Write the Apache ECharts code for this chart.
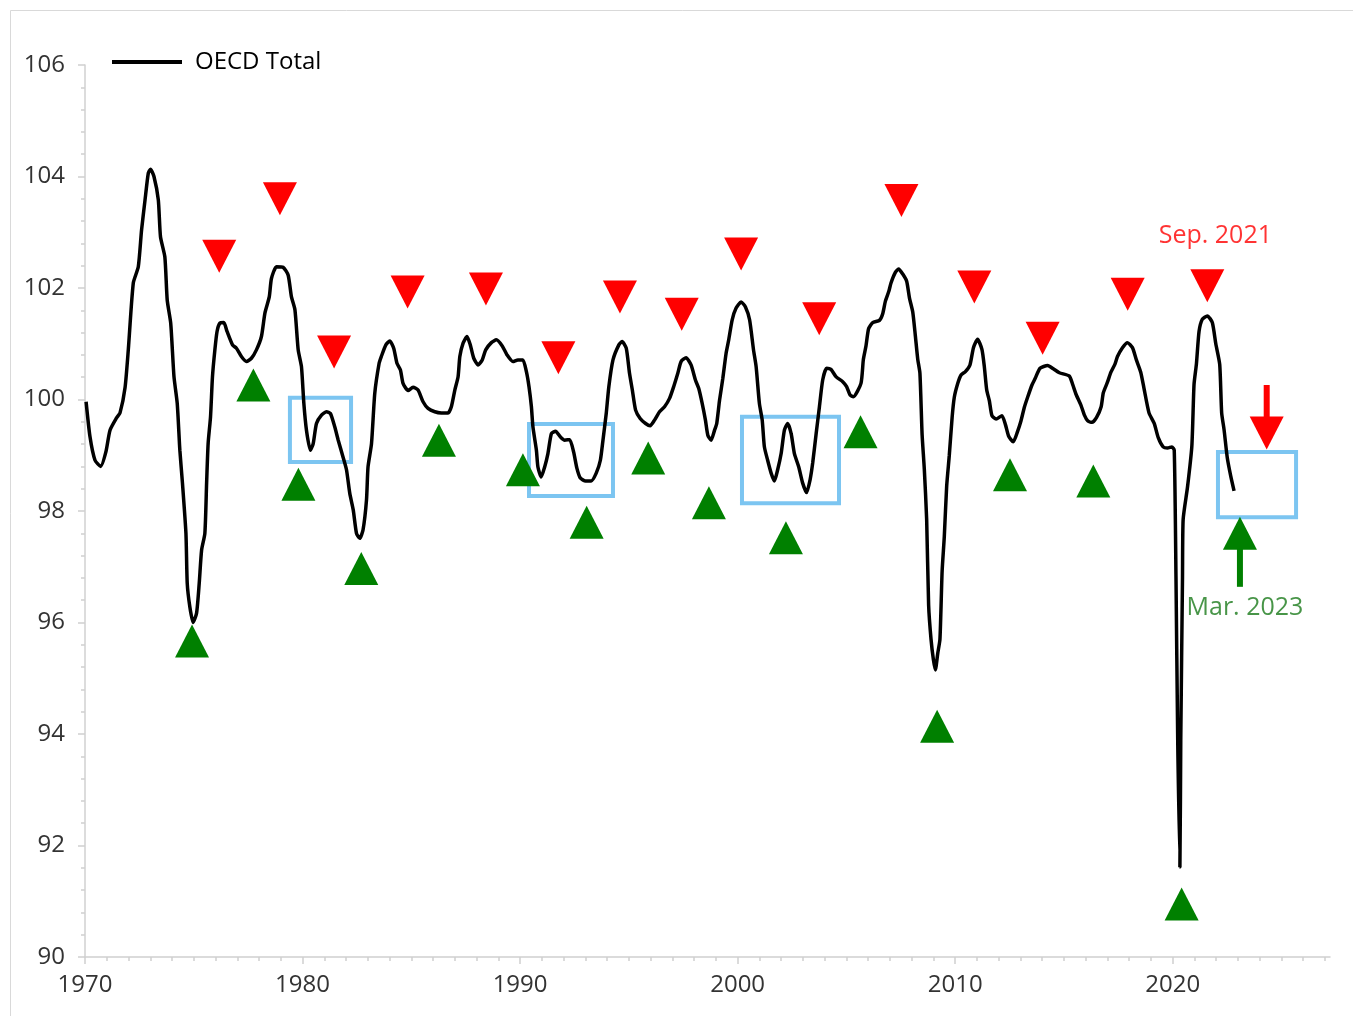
<!DOCTYPE html>
<html>
<head>
<meta charset="utf-8">
<title>OECD Total</title>
<script src="https://cdn.jsdelivr.net/npm/echarts@6/dist/echarts.min.js"></script>
<style>
html,body{margin:0;padding:0;background:#fff;}
#main{width:1353px;height:1016px;}
</style>
</head>
<body>
<div id="main"></div>
<script>
// OECD Total, [year, value]
var oecdTotal = [
  [1970.05,99.96],[1970.23,99.33],[1970.46,98.91],[1970.72,98.80],[1970.96,99.06],[1971.15,99.45],[1971.45,99.67],[1971.61,99.76],[1971.84,100.21],[1971.99,100.89],
  [1972.22,102.09],[1972.45,102.38],[1972.6,103.04],[1972.76,103.58],[1972.91,104.06],[1973.01,104.13],[1973.17,104.0],[1973.37,103.58],[1973.47,102.92],[1973.67,102.56],
  [1973.78,101.78],[1973.94,101.37],[1974.09,100.41],[1974.24,99.93],[1974.36,99.09],[1974.48,98.50],[1974.64,97.60],[1974.7,96.70],[1974.82,96.28],[1974.97,96.0],
  [1975.13,96.17],[1975.25,96.70],[1975.36,97.30],[1975.51,97.60],[1975.59,98.50],[1975.66,99.21],[1975.77,99.69],[1975.86,100.41],[1975.97,100.89],[1976.07,101.22],
  [1976.2,101.37],[1976.38,101.38],[1976.53,101.22],[1976.78,100.98],[1976.96,100.92],[1977.19,100.77],[1977.42,100.68],[1977.65,100.74],[1977.88,100.89],[1978.11,101.13],
  [1978.27,101.55],[1978.47,101.84],[1978.57,102.17],[1978.8,102.38],[1979.11,102.37],[1979.34,102.23],[1979.49,101.84],[1979.65,101.61],[1979.8,100.89],[1979.95,100.59],
  [1980.06,99.93],[1980.18,99.45],[1980.36,99.09],[1980.49,99.21],[1980.64,99.57],[1980.87,99.72],[1981.1,99.78],[1981.28,99.75],[1981.48,99.51],[1981.64,99.27],
  [1981.86,98.97],[1982.02,98.74],[1982.17,98.32],[1982.33,98.02],[1982.48,97.60],[1982.63,97.51],[1982.78,97.66],[1982.94,98.20],[1983.01,98.79],[1983.17,99.21],
  [1983.32,100.11],[1983.52,100.65],[1983.62,100.77],[1983.83,100.98],[1984.01,101.05],[1984.19,100.92],[1984.34,100.65],[1984.5,100.53],[1984.62,100.29],[1984.85,100.16],
  [1985.08,100.22],[1985.31,100.17],[1985.54,99.96],[1985.77,99.84],[1986.08,99.78],[1986.38,99.76],[1986.69,99.76],[1986.84,99.87],[1987.0,100.17],[1987.15,100.41],
  [1987.23,100.77],[1987.38,101.01],[1987.56,101.13],[1987.71,100.98],[1987.87,100.74],[1988.07,100.62],[1988.26,100.71],[1988.42,100.89],[1988.68,101.02],[1988.91,101.07],
  [1989.18,100.96],[1989.4,100.80],[1989.67,100.68],[1989.9,100.71],[1990.13,100.71],[1990.29,100.50],[1990.41,100.23],[1990.52,99.87],[1990.59,99.51],[1990.75,99.09],
  [1990.82,98.79],[1990.97,98.61],[1991.13,98.79],[1991.28,99.03],[1991.44,99.39],[1991.63,99.43],[1991.85,99.33],[1992.05,99.27],[1992.28,99.28],[1992.46,99.06],
  [1992.61,98.77],[1992.77,98.59],[1993.01,98.54],[1993.27,98.54],[1993.5,98.68],[1993.69,98.91],[1993.81,99.27],[1993.96,99.75],[1994.08,100.23],[1994.27,100.71],
  [1994.54,100.98],[1994.69,101.04],[1994.88,100.92],[1995.03,100.47],[1995.16,100.17],[1995.31,99.81],[1995.52,99.66],[1995.77,99.57],[1995.98,99.53],[1996.18,99.63],
  [1996.41,99.78],[1996.64,99.87],[1996.87,100.02],[1997.06,100.23],[1997.25,100.47],[1997.4,100.68],[1997.63,100.75],[1997.86,100.62],[1998.06,100.35],[1998.21,100.20],
  [1998.37,99.93],[1998.52,99.63],[1998.63,99.36],[1998.78,99.27],[1998.94,99.45],[1999.04,99.57],[1999.17,99.99],[1999.32,100.38],[1999.47,100.83],[1999.59,101.07],
  [1999.75,101.43],[1999.93,101.64],[2000.16,101.75],[2000.36,101.66],[2000.55,101.43],[2000.73,100.89],[2000.85,100.59],[2001.0,99.93],[2001.13,99.63],[2001.23,99.15],
  [2001.38,98.91],[2001.54,98.68],[2001.69,98.54],[2001.84,98.74],[2002.0,99.03],[2002.15,99.45],[2002.3,99.57],[2002.46,99.39],[2002.61,99.03],[2002.81,98.79],
  [2002.99,98.50],[2003.17,98.33],[2003.33,98.56],[2003.45,98.86],[2003.61,99.39],[2003.76,99.87],[2003.91,100.35],[2004.09,100.56],[2004.29,100.54],[2004.52,100.41],
  [2004.83,100.32],[2005.01,100.23],[2005.17,100.08],[2005.32,100.05],[2005.67,100.29],[2005.78,100.72],[2005.9,100.96],[2006.02,101.27],[2006.21,101.38],[2006.52,101.42],
  [2006.67,101.54],[2006.79,101.76],[2006.95,101.94],[2007.05,102.09],[2007.25,102.28],[2007.4,102.34],[2007.59,102.25],[2007.77,102.12],[2007.9,101.82],[2008.05,101.57],
  [2008.17,101.14],[2008.28,100.72],[2008.38,100.47],[2008.48,99.37],[2008.58,98.76],[2008.69,97.84],[2008.78,96.31],[2008.89,95.70],[2009.0,95.33],[2009.09,95.15],
  [2009.2,95.45],[2009.3,95.70],[2009.4,96.92],[2009.5,97.54],[2009.61,98.45],[2009.73,99.00],[2009.86,99.68],[2009.96,100.04],[2010.12,100.29],[2010.27,100.44],
  [2010.47,100.50],[2010.68,100.62],[2010.84,100.93],[2011.03,101.08],[2011.23,100.90],[2011.34,100.59],[2011.45,100.17],[2011.57,99.98],[2011.69,99.71],[2011.88,99.65],
  [2012.15,99.71],[2012.31,99.55],[2012.46,99.34],[2012.67,99.24],[2012.87,99.43],[2013.02,99.61],[2013.18,99.86],[2013.33,100.04],[2013.53,100.26],[2013.68,100.38],
  [2013.9,100.56],[2014.25,100.61],[2014.51,100.55],[2014.79,100.48],[2015.25,100.42],[2015.4,100.27],[2015.56,100.09],[2015.78,99.90],[2015.94,99.72],[2016.09,99.62],
  [2016.29,99.59],[2016.5,99.68],[2016.71,99.87],[2016.81,100.12],[2017.0,100.31],[2017.16,100.49],[2017.35,100.64],[2017.46,100.77],[2017.69,100.93],[2017.92,101.02],
  [2018.15,100.93],[2018.33,100.71],[2018.53,100.49],[2018.68,100.20],[2018.91,99.76],[2019.15,99.57],[2019.34,99.31],[2019.56,99.15],[2019.76,99.13],[2019.96,99.15],
  [2020.07,99.09],[2020.15,96.82],[2020.23,93.88],[2020.33,91.61],[2020.37,93.88],[2020.45,96.82],[2020.48,97.85],[2020.68,98.43],[2020.88,99.17],[2020.98,100.27],
  [2021.09,100.64],[2021.21,101.22],[2021.36,101.44],[2021.59,101.50],[2021.82,101.38],[2021.98,101.00],[2022.16,100.63],[2022.25,99.76],[2022.36,99.46],[2022.51,98.95],
  [2022.67,98.62],[2022.82,98.36]
];

// turning point markers (centre of the triangle)
var peaks = [
  [1976.17,102.57],[1978.96,103.60],[1981.45,100.85],[1984.83,101.93],[1988.43,101.98],
  [1991.76,100.75],[1994.59,101.84],[1997.43,101.53],[2000.16,102.61],[2003.75,101.45],
  [2007.53,103.57],[2010.88,102.02],[2014.02,101.10],[2017.93,101.89],[2021.59,102.04]
];
var troughs = [
  [1974.92,95.67],[1977.74,100.26],[1979.81,98.48],[1982.70,96.97],[1986.27,99.27],
  [1990.13,98.74],[1993.06,97.80],[1995.89,98.95],[1998.68,98.15],[2002.22,97.52],
  [2005.65,99.42],[2009.17,94.14],[2012.52,98.65],[2016.35,98.54],[2020.41,90.95]
];

// blue boxes: [year from, value top, year to, value bottom]
var boxes = [
  [1979.42,100.03,1982.23,98.88],
  [1990.41,99.56,1994.27,98.27],
  [2000.20,99.69,2004.66,98.14],
  [2022.08,99.06,2025.67,97.89]
];

// arrows
var redShaft = [[2024.32,100.26],[2024.32,99.63]];
var redHead = [[2024.32,99.40]];
var greenShaft = [[2023.09,96.64],[2023.09,97.34]];
var greenHead = [[2023.09,97.60]];

var notes = [[2021.96,102.93,'Sep. 2021'],[2023.32,96.27,'Mar. 2023']];
var noteColors = ['#ff0000','#1a7a1a'];

var yearTicks = [1970,1980,1990,2000,2010,2020];

var fontName = '"Open Sans", "Noto Sans", sans-serif';
var axisGrey = '#d0d0d0';

var myChart = echarts.init(document.getElementById('main'));
var option = {
    backgroundColor: '#fff',
    animation: false,
    textStyle: { fontFamily: fontName },
    graphic: [{
        type: 'rect',
        shape: { x: 10.5, y: 10.5, width: 1400, height: 1100 },
        style: { fill: 'none', stroke: '#d9d9d9', lineWidth: 1 },
        silent: true
    }],
    grid: { left: 85, right: 23, top: 65, bottom: 59, containLabel: false },
    legend: {
        data: [{ name: 'OECD Total', icon: 'rect' }],
        left: 112,
        top: 50,
        padding: 0,
        itemWidth: 70,
        itemHeight: 4,
        textStyle: { fontSize: 24, color: '#000', fontFamily: fontName, padding: [0, 0, 0, 8] }
    },
    xAxis: {
        type: 'value',
        min: 1970,
        max: 2027.23,
        interval: 10,
        axisLine: { show: true, onZero: false, lineStyle: { color: axisGrey, width: 1.5 } },
        axisTick: { show: true, length: 7, customValues: yearTicks, lineStyle: { color: axisGrey, width: 1.5 } },
        minorTick: { show: true, splitNumber: 10, length: 4, lineStyle: { color: axisGrey, width: 1.5 } },
        axisLabel: {
            customValues: yearTicks,
            formatter: function (v) { return String(v); },
            fontSize: 24, color: '#333', margin: 16, fontFamily: fontName
        },
        splitLine: { show: false }
    },
    yAxis: {
        type: 'value',
        min: 90,
        max: 106,
        interval: 2,
        axisLine: { show: true, lineStyle: { color: axisGrey, width: 1.5 } },
        axisTick: { show: true, length: 7, lineStyle: { color: axisGrey, width: 1.5 } },
        minorTick: { show: true, splitNumber: 5, length: 4, lineStyle: { color: axisGrey, width: 1.5 } },
        axisLabel: { fontSize: 24, color: '#333', margin: 20, fontFamily: fontName },
        splitLine: { show: false }
    },
    series: [
        {
            name: 'OECD Total',
            type: 'line',
            data: oecdTotal,
            showSymbol: false,
            symbol: 'none',
            smooth: 0.2,
            lineStyle: { color: '#000', width: 3.5 },
            itemStyle: { color: '#000' },
            z: 3,
            markArea: {
                silent: true,
                itemStyle: { color: 'rgba(0,0,0,0)', borderColor: '#7cc5f1', borderWidth: 4 },
                label: { show: false },
                data: boxes.map(function (b) {
                    return [{ coord: [b[0], b[1]] }, { coord: [b[2], b[3]] }];
                })
            }
        },
        {
            name: 'peaks',
            type: 'scatter',
            data: peaks.concat(redHead),
            symbol: 'triangle',
            symbolSize: [34, 33],
            symbolRotate: 180,
            itemStyle: { color: '#ff0000', opacity: 1 },
            z: 4
        },
        {
            name: 'troughs',
            type: 'scatter',
            data: troughs.concat(greenHead),
            symbol: 'triangle',
            symbolSize: [34, 33],
            itemStyle: { color: '#008000', opacity: 1 },
            z: 4
        },
        {
            name: 'redShaft',
            type: 'line',
            data: redShaft,
            symbol: 'none',
            lineStyle: { color: '#ff0000', width: 6, cap: 'butt' },
            z: 4
        },
        {
            name: 'greenShaft',
            type: 'line',
            data: greenShaft,
            symbol: 'none',
            lineStyle: { color: '#008000', width: 6, cap: 'butt' },
            z: 4
        },
        {
            name: 'notes',
            type: 'scatter',
            symbolSize: 0,
            data: notes.map(function (n, i) {
                return {
                    value: [n[0], n[1]],
                    label: {
                        show: true,
                        position: 'inside',
                        formatter: n[2],
                        fontSize: 25,
                        color: noteColors[i],
                        fontFamily: fontName
                    }
                };
            }),
            z: 5
        }
    ]
};
myChart.setOption(option);
window.onresize = function () {
    myChart.resize();
};
</script>
</body>
</html>
